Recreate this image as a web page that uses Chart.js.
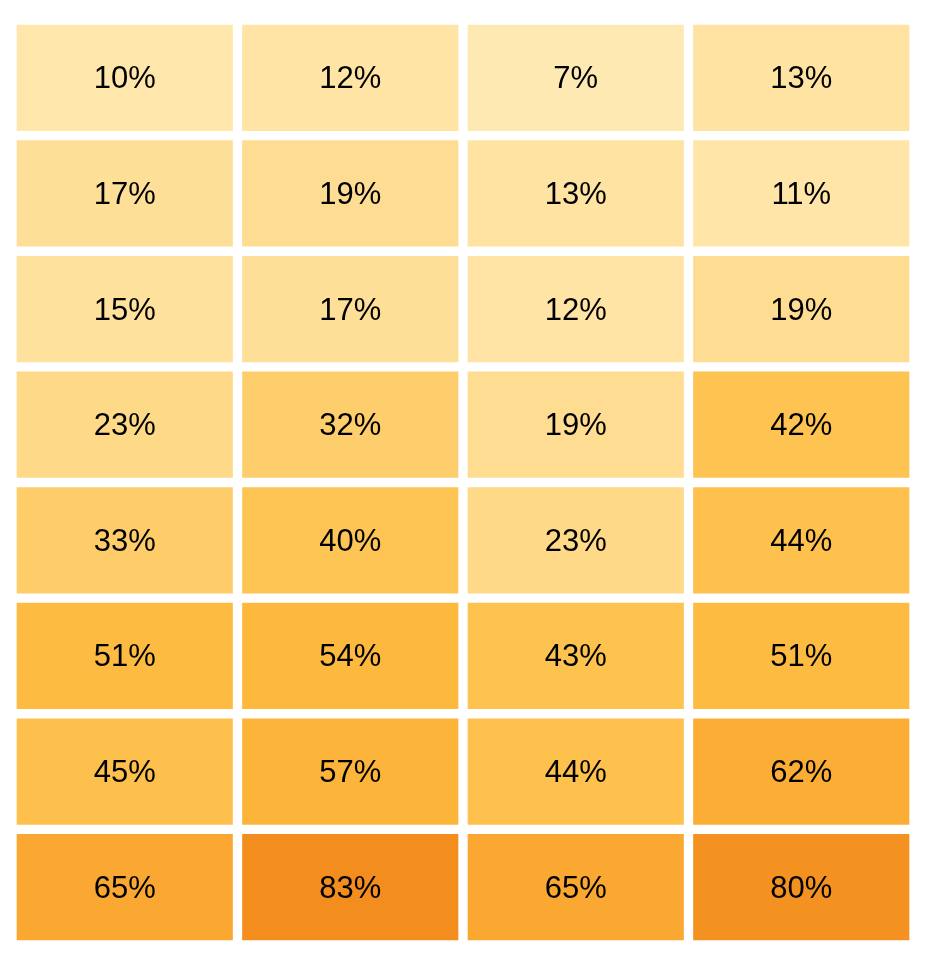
<!DOCTYPE html>
<html>
<head>
<meta charset="utf-8">
<script src="https://cdn.jsdelivr.net/npm/chart.js@4.4.1/dist/chart.umd.min.js"></script>
<style>
html,body{margin:0;padding:0;background:#ffffff;}
#wrap{width:946px;height:957px;position:relative;}
</style>
</head>
<body>
<div id="wrap"><canvas id="c" width="946" height="957"></canvas></div>
<script>
// Columns (unlabelled in the reference)
const columns = ['A', 'B', 'C', 'D'];
// Rows top to bottom, values in percent
const row1 = [10, 12, 7, 13];
const row2 = [17, 19, 13, 11];
const row3 = [15, 17, 12, 19];
const row4 = [23, 32, 19, 42];
const row5 = [33, 40, 23, 44];
const row6 = [51, 54, 43, 51];
const row7 = [45, 57, 44, 62];
const row8 = [65, 83, 65, 80];
const rows = [row1, row2, row3, row4, row5, row6, row7, row8];

// colour scale stops (value -> colour)
const stops = [
  [7,  [255, 233, 178]],
  [20, [254, 220, 144]],
  [40, [254, 197, 84]],
  [55, [253, 183, 60]],
  [65, [251, 168, 50]],
  [83, [243, 141, 30]]
];
function colorFor(v) {
  if (v <= stops[0][0]) return 'rgb(' + stops[0][1].join(',') + ')';
  for (let i = 1; i < stops.length; i++) {
    if (v <= stops[i][0]) {
      const [v0, c0] = stops[i - 1], [v1, c1] = stops[i];
      const t = (v - v0) / (v1 - v0);
      const c = c0.map((x, k) => Math.round(x + (c1[k] - x) * t));
      return 'rgb(' + c.join(',') + ')';
    }
  }
  return 'rgb(' + stops[stops.length - 1][1].join(',') + ')';
}

const datasets = rows.map((vals, r) => ({
  label: 'row' + (r + 1),
  data: vals.map(() => [r, r + 1]),
  values: vals,
  backgroundColor: vals.map(colorFor),
  borderColor: '#ffffff',
  borderWidth: 5,
  borderSkipped: false,
  grouped: false,
  barPercentage: 1,
  categoryPercentage: 1
}));

const labelPlugin = {
  id: 'cellLabels',
  afterDatasetsDraw(chart) {
    const ctx = chart.ctx;
    ctx.save();
    ctx.fillStyle = '#000000';
    ctx.font = '31px "Liberation Sans", Arial, sans-serif';
    ctx.textAlign = 'center';
    ctx.textBaseline = 'middle';
    chart.data.datasets.forEach((ds, di) => {
      const meta = chart.getDatasetMeta(di);
      meta.data.forEach((bar, i) => {
        const p = bar.getProps(['x', 'y', 'base'], true);
        const cy = (p.y + p.base) / 2;
        ctx.fillText(ds.values[i] + '%', p.x, cy + 2);
      });
    });
    ctx.restore();
  }
};

const bgPlugin = {
  id: 'bg',
  beforeDraw(chart) {
    const ctx = chart.ctx;
    ctx.save();
    ctx.fillStyle = '#ffffff';
    ctx.fillRect(0, 0, chart.width, chart.height);
    ctx.restore();
  }
};

new Chart(document.getElementById('c'), {
  type: 'bar',
  data: { labels: columns, datasets },
  options: {
    responsive: false,
    animation: false,
    layout: { padding: { left: 12, right: 32, top: 20, bottom: 12 } },
    plugins: { legend: { display: false }, tooltip: { enabled: false } },
    scales: {
      x: { display: false, offset: true, grid: { display: false } },
      y: { display: false, min: 0, max: 8, reverse: true, grid: { display: false } }
    }
  },
  plugins: [bgPlugin, labelPlugin]
});
</script>
</body>
</html>
